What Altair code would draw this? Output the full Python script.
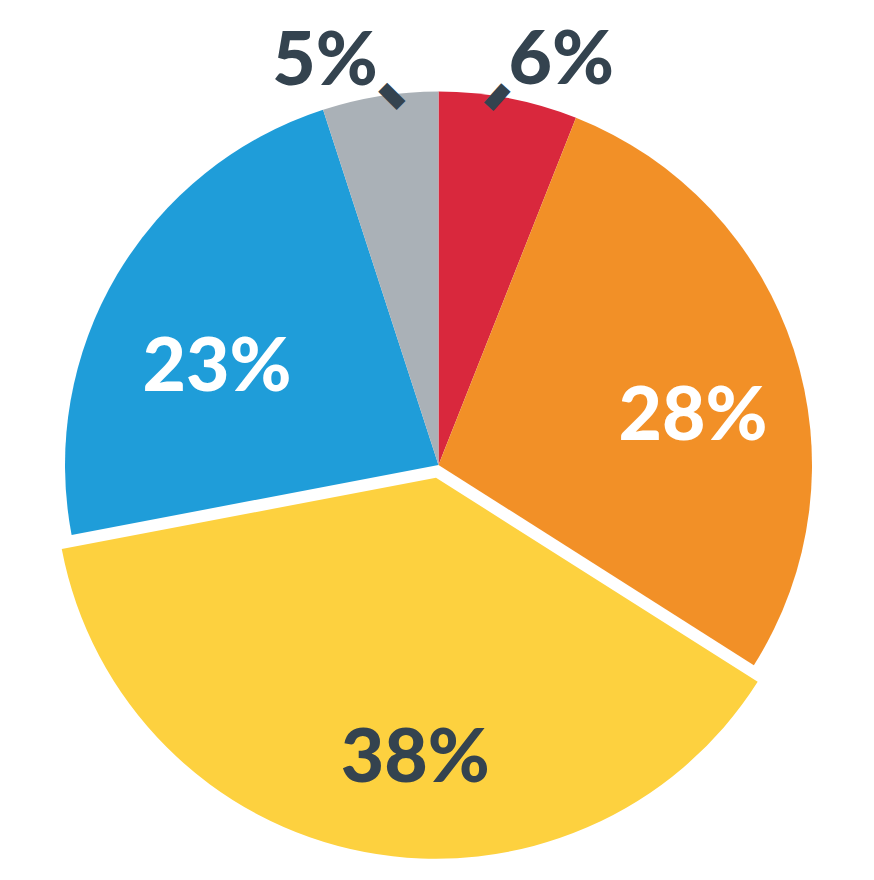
import altair as alt
import pandas as pd

# ---- data ----
categories = ["Segment A", "Segment B", "Segment C", "Segment D", "Segment E"]
values = [6, 28, 38, 23, 5]
labels = ["6%", "28%", "38%", "23%", "5%"]
order = [1, 2, 3, 4, 5]
colors = ["#D9283D", "#F29027", "#FDD13F", "#1F9DD9", "#AAB1B7"]

df = pd.DataFrame({"category": categories, "value": values, "label": labels, "order": order})

DARK = "#34434F"
CX, CY = 430.5, 457
R = 373.5
EXPLODED = "Segment C"

theta = alt.Theta("value:Q", stack=True)
color = alt.Color("category:N", scale=alt.Scale(domain=categories, range=colors), legend=None)
ordr = alt.Order("order:Q", sort="ascending")

base = alt.Chart(df)

arcs = base.mark_arc(outerRadius=R, x=CX, y=CY, strokeWidth=0).encode(
    theta=theta, color=color, order=ordr,
    opacity=alt.when(alt.datum.category == EXPLODED).then(alt.value(0)).otherwise(alt.value(1)),
)

exploded = base.mark_arc(outerRadius=381, x=CX - 2.5, y=CY + 12.7, strokeWidth=0).encode(
    theta=theta, color=color, order=ordr,
    opacity=alt.when(alt.datum.category == EXPLODED).then(alt.value(1)).otherwise(alt.value(0)),
)

label_style = {
    "6%": dict(radius=415, dx=45, dy=4, color=DARK),
    "28%": dict(radius=255, dx=12, dy=31, color="white"),
    "38%": dict(radius=290, dx=31, dy=9, color=DARK),
    "23%": dict(radius=240, dx=-15, dy=25, color="white"),
    "5%": dict(radius=412, dx=-49, dy=4, color=DARK),
}

layers = [arcs, exploded]
for lab, st in label_style.items():
    layers.append(
        base.mark_text(
            x=CX, y=CY, radius=st["radius"], dx=st["dx"], dy=st["dy"],
            font="Lato", fontWeight=900, fontSize=75, color=st["color"],
            align="center", baseline="middle",
        ).encode(
            theta=theta, order=ordr, text="label:N",
            opacity=alt.when(alt.datum.label == lab).then(alt.value(1)).otherwise(alt.value(0)),
        )
    )

tick_style = {
    "6%": dict(radius=376, dx=-9, dy=-9, angle=312),
    "5%": dict(radius=374, dx=9, dy=-9, angle=45),
}
for lab, st in tick_style.items():
    layers.append(
        base.mark_text(
            x=CX, y=CY, radius=st["radius"], dx=st["dx"], dy=st["dy"], angle=st["angle"],
            font="DejaVu Sans", fontSize=34, color=DARK, text="▬",
            align="center", baseline="middle",
        ).encode(
            theta=theta, order=ordr,
            opacity=alt.when(alt.datum.label == lab).then(alt.value(1)).otherwise(alt.value(0)),
        )
    )

chart = alt.layer(*layers).properties(
    width=858, height=864, autosize=alt.AutoSizeParams(type="none"), padding=0,
    background="white",
).configure_view(stroke=None)

chart.save("out.html", embed_options={"renderer": "svg", "actions": False})
